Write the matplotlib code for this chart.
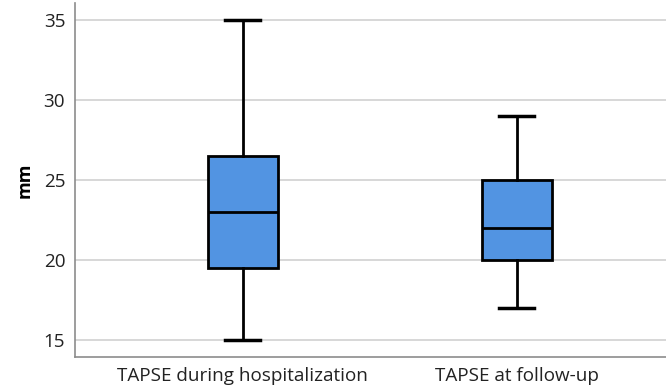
import matplotlib.pyplot as plt

# box plot summary values
groups = ['TAPSE during hospitalization', 'TAPSE at follow-up']
whis_lo = [15, 17]
q1 = [19.5, 20]
medians = [23, 22]
q3 = [26.5, 25]
whis_hi = [35, 29]

plt.rcParams['font.family'] = ['Open Sans', 'DejaVu Sans']

fig = plt.figure(figsize=(6.66, 3.9), dpi=100)
ax = fig.add_axes([0.1126, 0.0846, 0.887, 0.9077])

stats = []
for i, name in enumerate(groups):
    stats.append({'label': name, 'whislo': whis_lo[i], 'q1': q1[i], 'med': medians[i],
                  'q3': q3[i], 'whishi': whis_hi[i], 'fliers': []})

ax.bxp(stats, positions=[0, 1], widths=0.255, patch_artist=True, showfliers=False,
       boxprops=dict(facecolor='#5294e2', edgecolor='black', linewidth=2),
       medianprops=dict(color='black', linewidth=2),
       whiskerprops=dict(color='black', linewidth=2),
       capprops=dict(color='black', linewidth=2.5), capwidths=0.128)

ax.set_xlim(-0.612, 1.543)
ax.set_ylim(13.94, 36.06)
ax.set_yticks([15, 20, 25, 30, 35])
ax.yaxis.grid(True, color='#d4d4d4', linewidth=1.3)
ax.set_axisbelow(True)

for s in ['top', 'right']:
    ax.spines[s].set_visible(False)
for s in ['left', 'bottom']:
    ax.spines[s].set_color('#8c8c8c')
    ax.spines[s].set_linewidth(1.2)

ax.tick_params(axis='both', length=0, labelsize=13.6, colors='#222222', pad=7)
ax.set_ylabel('mm', fontsize=13, fontweight='bold', labelpad=7)

fig.savefig('out.png', dpi=100)
